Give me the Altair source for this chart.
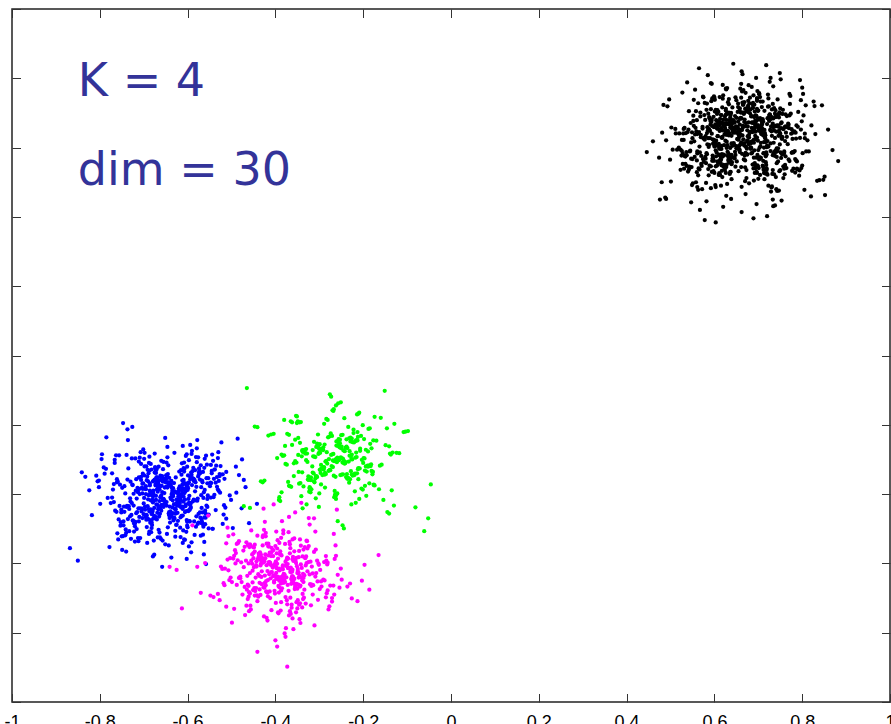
import altair as alt
import pandas as pd

# ---- tick values of both axes
ticks = [-1, -0.8, -0.6, -0.4, -0.2, 0, 0.2, 0.4, 0.6, 0.8, 1]

# ---- annotation texts (placed in data coordinates)
note_text = ["K = 4", "dim = 30"]
note_x = [-0.85, -0.85]
note_y = [0.749, 0.492]

# ---- cluster 1 (black, upper right): core points
black_x_core = [
.672,.631,.704,.598,.655,.689,.742,.613,.668,.547,.719,.640,.693,.581,.776,.659,.626,.711,.512,.684,
.647,.702,.590,.733,.662,.618,.801,.676,.639,.557,.698,.725,.604,.671,.644,.869,.687,.623,.752,.660,
.609,.681,.716,.652,.570,.738,.628,.695,.663,.532,.707,.645,.789,.617,.679,.600,.728,.654,.460,.690,
.636,.750,.667,.592,.713,.642,.685,.526,.699,.621,.760,.657,.603,.731,.674,.815,.649,.586,.722,.611,
.694,.566,.658,.741,.627,.683,.601,.709,.648,.778,.635,.670,.541,.717,.662,.593,.745,.629,.882,.688,
.655,.614,.726,.678,.573,.696,.640,.754,.666,.519,.703,.632,.687,.608,.739,.651,.793,.620,.676,.597,
.712,.643,.582,.697,.660,.735,.625,.561,.680,.707,.639,.771,.668,.599,.723,.654,.490,.689,.616,.748,
.633,.700,.657,.594,.764,.675,.610,.718,.646,.537,.692,.628,.808,.664,.607,.730,.685,.574,.650,.714,
.619,.691,.738,.641,.670,.553,.705,.661,.782,.624,.684,.596,.720,.653,.446,.699,.637,.757,.668,.588,
.706,.645,.677,.569,.729,.658,.612,.694,.830,.634,.673,.602,.747,.663,.528,.688,.626,.715,.650,.585,
.683,.617,.740,.666,.595,.702,.647,.767,.630,.558,.693,.676,.611,.724,.656,.505,.687,.638,.795,.671,
.641,.710,.589,.679,.733,.622,.665,.544,.698,.652,.759,.604,.686,.629,.742,.660,.851,.615,.675,.579,
.697,.635,.720,.660,.578,.685,.644,.773,.669,.606,.711,.523,.654,.727,.632,.689,.597,.746,.662,.481,
.625,.702,.671,.591,.753,.648,.681,.612,.719,.565,.693,.640,.786,.657,.603,.734,.676,.547,.664,.707,
.674,.613,.736,.652,.584,.698,.639,.762,.667,.530,.709,.627,.690,.600,.744,.658,.821,.621,.682,.576,
.650,.721,.607,.687,.662,.554,.704,.643,.780,.631,.679,.594,.728,.666,.499,.695,.618,.751,.656,.588,
.712,.637,.675,.567,.739,.660,.616,.697,.806,.646,.672,.598,.731,.655,.539,.684,.627,.716,.663,.582,
.690,.624,.747,.669,.600,.705,.651,.769,.634,.561,.694,.678,.614,.726,.659,.515,.688,.641,.797,.673,
.644,.715,.592,.682,.737,.619,.667,.549,.701,.654,.761,.608,.689,.633,.743,.663,.859,.622,.677,.580,
.699,.639,.723,.661,.575,.686,.647,.775,.670,.609,.713,.527,.657,.729,.636,.692,.599,.749,.665,.474,
.628,.706,.673,.590,.755,.650,.683,.615,.721,.563,.696,.643,.788,.658,.605,.736,.678,.550,.668,.710,
.676,.611,.734,.655,.586,.700,.638,.765,.670,.534,.708,.630,.691,.602,.746,.661,.826,.624,.684,.578,
.653,.719,.606,.688,.664,.552,.703,.645,.784,.633,.680,.596,.725,.668,.502,.697,.620,.753,.659,.587,
.714,.636,.677,.569,.741,.662,.618,.699,.812,.648,.674,.601,.733,.657,.542,.686,.629,.718,.665,.583,
.692,.626,.749,.671,.603,.707,.653,.771,.636,.559,.696,.680,.616,.728,.661,.511,.690,.643,.799,.675,
]
black_y_core = [
.602,.648,.571,.689,.623,.540,.664,.597,.731,.615,.580,.676,.634,.498,.653,.609,.712,.562,.641,.690,.588,.757,.627,.669,.414,
.631,.584,.703,.612,.657,.549,.679,.620,.466,.645,.593,.725,.638,.570,.684,.605,.744,.626,.660,.553,.698,.617,.801,.651,.576,
.665,.608,.537,.672,.629,.744,.590,.653,.618,.505,.687,.641,.566,.711,.600,.648,.775,.622,.681,.546,.659,.595,.384,.634,.706,
.589,.661,.627,.718,.556,.646,.603,.683,.480,.637,.612,.738,.668,.579,.625,.699,.543,.652,.616,.820,.674,.598,.640,.561,.729,
.642,.574,.695,.610,.655,.530,.678,.625,.766,.600,.649,.565,.714,.633,.591,.686,.519,.662,.618,.741,.584,.657,.445,.629,.701,
.614,.667,.583,.728,.639,.552,.693,.606,.659,.490,.675,.621,.751,.596,.644,.568,.707,.631,.680,.541,.650,.611,.838,.672,.578,
.656,.599,.722,.635,.560,.684,.617,.747,.643,.509,.670,.592,.628,.716,.563,.663,.604,.784,.647,.535,.691,.624,.402,.658,.587,
.620,.676,.546,.701,.608,.654,.572,.735,.630,.473,.666,.601,.692,.639,.557,.713,.615,.648,.762,.582,.671,.527,.636,.604,.809,
.646,.581,.688,.624,.742,.566,.652,.610,.697,.500,.661,.633,.579,.719,.642,.594,.673,.452,.628,.758,.605,.682,.548,.637,.726,
.607,.663,.589,.708,.625,.539,.679,.645,.772,.598,.651,.516,.694,.619,.573,.735,.640,.606,.686,.391,.657,.613,.749,.577,.668,
.636,.594,.717,.651,.562,.690,.611,.660,.487,.643,.620,.754,.585,.677,.632,.545,.699,.648,.601,.829,.667,.558,.626,.706,.592,
.659,.616,.568,.730,.641,.597,.683,.523,.655,.609,.763,.634,.575,.697,.622,.672,.461,.646,.603,.739,.587,.664,.550,.710,.628,
.598,.685,.633,.551,.702,.618,.746,.657,.586,.669,.497,.640,.612,.724,.565,.676,.628,.797,.604,.653,.536,.694,.621,.420,.661,
.650,.605,.740,.627,.569,.671,.613,.687,.532,.645,.599,.768,.636,.582,.709,.623,.658,.476,.681,.610,.733,.560,.666,.641,.589,
.625,.673,.557,.696,.639,.594,.715,.608,.652,.512,.679,.630,.786,.601,.662,.574,.700,.644,.541,.727,.619,.665,.396,.635,.691,
.611,.652,.578,.721,.633,.546,.667,.603,.744,.626,.585,.691,.640,.503,.675,.616,.759,.592,.649,.563,.704,.622,.815,.658,.571,
.668,.614,.535,.683,.630,.737,.596,.656,.619,.478,.690,.644,.560,.713,.606,.649,.780,.627,.674,.548,.661,.597,.431,.638,.698,
.593,.664,.631,.712,.553,.647,.607,.688,.492,.634,.615,.733,.670,.583,.623,.703,.540,.655,.618,.812,.677,.600,.643,.567,.725,
.645,.577,.692,.613,.658,.527,.681,.628,.770,.602,.651,.570,.718,.637,.588,.684,.515,.665,.621,.745,.581,.660,.450,.632,.705,
.617,.670,.586,.724,.642,.555,.695,.609,.662,.486,.678,.624,.755,.599,.647,.571,.709,.629,.683,.544,.654,.614,.842,.676,.580,
]
# ---- cluster 1: ring points (middle density zone)
black_x_ring = [
.632,.734,.598,.702,.551,.748,.615,.583,.779,.694,.624,.742,.575,.713,.538,.790,.606,.755,.637,.497,
.716,.590,.627,.759,.561,.699,.786,.612,.733,.547,.640,.727,.586,.770,.620,.704,.529,.751,.603,.834,
.611,.745,.578,.690,.800,.634,.560,.724,.595,.708,.543,.763,.629,.738,.572,.693,.783,.607,.721,.488,
.741,.601,.718,.556,.697,.617,.768,.580,.729,.639,.532,.754,.593,.711,.795,.625,.566,.746,.604,.845,
.587,.707,.638,.776,.549,.731,.614,.757,.571,.696,.525,.739,.622,.762,.599,.719,.806,.630,.558,.480,
.725,.576,.691,.794,.619,.752,.540,.700,.596,.736,.628,.565,.774,.610,.743,.685,.536,.766,.635,.852,
.605,.739,.564,.715,.633,.784,.591,.703,.552,.757,.618,.698,.797,.581,.728,.640,.523,.749,.613,.493,
.760,.595,.708,.545,.731,.626,.771,.585,.693,.620,.534,.747,.603,.720,.802,.637,.561,.735,.609,.839,
.579,.717,.631,.788,.556,.744,.600,.765,.574,.697,.528,.730,.616,.758,.592,.711,.809,.636,.563,.476,
.737,.568,.694,.781,.612,.750,.546,.706,.589,.740,.625,.570,.772,.608,.726,.688,.531,.762,.639,.828,
.613,.746,.560,.712,.629,.791,.597,.701,.548,.753,.621,.695,.800,.584,.723,.636,.520,.744,.607,.501,
.753,.599,.710,.542,.734,.623,.777,.588,.690,.618,.537,.741,.606,.717,.805,.634,.567,.729,.611,.820,
.582,.714,.627,.785,.553,.748,.602,.769,.577,.700,.530,.733,.619,.761,.594,.709,.798,.638,.560,.484,
.732,.573,.699,.778,.615,.756,.550,.705,.592,.738,.630,.568,.780,.604,.722,.692,.535,.759,.633,.848,
.608,.742,.563,.719,.626,.787,.594,.704,.555,.750,.616,.701,.803,.583,.730,.641,.526,.752,.610,.490,
]
black_y_ring = [
.583,.684,.532,.651,.497,.702,.566,.727,.644,.541,.690,.573,.745,.527,.788,
.660,.548,.697,.578,.739,.525,.648,.680,.589,.486,.706,.563,.665,.535,.442,
.571,.693,.538,.656,.751,.521,.641,.586,.709,.504,.674,.560,.729,.552,.773,
.667,.529,.686,.562,.717,.545,.643,.700,.576,.480,.678,.590,.655,.522,.456,
.590,.704,.550,.638,.743,.533,.669,.568,.688,.509,.657,.581,.734,.544,.795,
.646,.537,.695,.575,.722,.520,.663,.681,.585,.492,.710,.565,.653,.547,.437,
.577,.689,.543,.661,.748,.526,.640,.588,.705,.500,.677,.559,.724,.534,.781,
.670,.531,.683,.569,.714,.551,.645,.698,.580,.475,.672,.587,.659,.524,.463,
.586,.708,.540,.642,.740,.528,.666,.572,.692,.512,.650,.579,.737,.555,.801,
.654,.536,.699,.564,.719,.523,.662,.676,.591,.488,.707,.561,.649,.549,.429,
.574,.687,.546,.668,.755,.530,.639,.584,.703,.506,.680,.558,.731,.539,.767,
.663,.527,.691,.567,.712,.553,.647,.694,.582,.483,.675,.589,.658,.520,.450,
.588,.701,.542,.644,.746,.535,.671,.570,.685,.515,.652,.576,.726,.557,.790,
.650,.539,.696,.579,.720,.521,.664,.679,.583,.495,.703,.568,.657,.544,.447,
.580,.692,.548,.659,.742,.529,.641,.590,.708,.502,.673,.562,.733,.537,.777,
.669,.533,.688,.571,.716,.547,.646,.697,.575,.478,.679,.586,.661,.526,.459,
.584,.706,.544,.643,.738,.532,.667,.566,.694,.510,.654,.578,.741,.550,.784,
.655,.541,.700,.563,.723,.524,.660,.682,.587,.490,.709,.567,.647,.546,.433,
.576,.690,.539,.665,.753,.527,.642,.585,.701,.507,.676,.555,.728,.536,.770,
.664,.530,.685,.573,.713,.549,.649,.693,.581,.485,.671,.590,.656,.521,.452,
]

# ---- cluster 2 (blue, lower left): core points
blue_x_core = [
-.633,-.671,-.598,-.702,-.648,-.615,-.559,-.684,-.627,-.741,-.655,-.590,-.662,-.719,-.604,-.643,-.520,-.677,-.611,-.802,
-.652,-.589,-.694,-.621,-.666,-.733,-.605,-.647,-.548,-.680,-.630,-.762,-.613,-.658,-.577,-.699,-.638,-.850,-.624,-.686,
-.617,-.675,-.642,-.563,-.708,-.636,-.595,-.660,-.751,-.609,-.689,-.626,-.531,-.669,-.646,-.716,-.582,-.653,-.477,-.692,
-.664,-.601,-.726,-.639,-.574,-.681,-.620,-.778,-.650,-.593,-.697,-.632,-.545,-.672,-.612,-.737,-.657,-.586,-.640,-.824,
-.608,-.659,-.695,-.628,-.555,-.683,-.645,-.756,-.619,-.668,-.581,-.711,-.635,-.504,-.676,-.600,-.727,-.649,-.566,-.661,
-.644,-.691,-.612,-.734,-.657,-.570,-.678,-.625,-.789,-.603,-.663,-.539,-.701,-.637,-.596,-.673,-.618,-.460,-.654,-.713,
-.627,-.682,-.588,-.649,-.720,-.614,-.667,-.552,-.695,-.641,-.766,-.606,-.658,-.583,-.705,-.631,-.679,-.841,-.622,-.569,
-.669,-.604,-.740,-.646,-.578,-.687,-.629,-.526,-.661,-.616,-.772,-.651,-.598,-.693,-.634,-.723,-.562,-.655,-.610,-.497,
-.639,-.700,-.591,-.665,-.617,-.749,-.643,-.557,-.676,-.626,-.707,-.599,-.654,-.805,-.632,-.685,-.573,-.660,-.613,-.729,
-.650,-.586,-.688,-.623,-.742,-.662,-.601,-.541,-.673,-.637,-.697,-.609,-.782,-.645,-.580,-.714,-.628,-.667,-.442,-.655,
-.611,-.677,-.636,-.565,-.718,-.648,-.594,-.690,-.759,-.621,-.663,-.533,-.684,-.640,-.602,-.731,-.656,-.575,-.670,-.868,
-.661,-.597,-.704,-.630,-.571,-.679,-.619,-.747,-.652,-.587,-.693,-.635,-.512,-.671,-.607,-.722,-.644,-.560,-.659,-.795,
-.624,-.686,-.645,-.576,-.712,-.633,-.592,-.664,-.768,-.614,-.680,-.547,-.698,-.641,-.603,-.739,-.653,-.584,-.489,-.672,
-.647,-.606,-.725,-.660,-.579,-.694,-.618,-.754,-.638,-.567,-.675,-.629,-.536,-.687,-.615,-.744,-.657,-.596,-.668,-.818,
-.620,-.666,-.699,-.634,-.558,-.678,-.642,-.761,-.610,-.672,-.585,-.709,-.649,-.517,-.683,-.600,-.730,-.646,-.568,-.658,
-.642,-.696,-.609,-.736,-.654,-.572,-.682,-.623,-.786,-.605,-.667,-.543,-.703,-.631,-.599,-.676,-.616,-.468,-.651,-.717,
-.629,-.685,-.590,-.652,-.723,-.612,-.670,-.554,-.691,-.639,-.770,-.608,-.656,-.581,-.706,-.627,-.681,-.833,-.625,-.564,
-.666,-.602,-.738,-.643,-.577,-.689,-.631,-.529,-.663,-.618,-.775,-.648,-.595,-.690,-.636,-.720,-.561,-.657,-.611,-.501,
-.637,-.703,-.593,-.668,-.619,-.746,-.645,-.555,-.674,-.628,-.710,-.597,-.650,-.799,-.633,-.688,-.574,-.662,-.614,-.726,
]
blue_y_core = [
-.401,-.362,-.447,-.385,-.423,-.331,-.468,-.396,-.352,-.502,-.414,-.374,-.439,-.297,-.390,-.456,-.343,-.419,-.541,
-.380,-.428,-.355,-.474,-.406,-.321,-.443,-.392,-.515,-.367,-.417,-.281,-.451,-.399,-.348,-.486,-.411,-.376,-.592,
-.433,-.370,-.409,-.338,-.461,-.395,-.527,-.382,-.425,-.304,-.445,-.359,-.403,-.489,-.387,-.431,-.264,-.413,-.366,
-.397,-.441,-.349,-.420,-.480,-.373,-.410,-.326,-.458,-.391,-.553,-.361,-.427,-.384,-.472,-.340,-.405,-.437,-.213,
-.418,-.357,-.466,-.389,-.335,-.432,-.400,-.506,-.369,-.446,-.378,-.288,-.422,-.393,-.494,-.352,-.438,-.404,-.575,
-.388,-.426,-.346,-.453,-.408,-.317,-.471,-.383,-.435,-.362,-.520,-.398,-.415,-.341,-.449,-.377,-.402,-.271,-.463,
-.429,-.371,-.412,-.484,-.356,-.394,-.444,-.329,-.421,-.379,-.537,-.407,-.365,-.459,-.386,-.436,-.301,-.416,-.610,
-.392,-.450,-.368,-.424,-.337,-.477,-.403,-.358,-.430,-.512,-.381,-.419,-.292,-.442,-.396,-.350,-.467,-.410,-.238,
-.414,-.360,-.455,-.399,-.324,-.437,-.385,-.498,-.372,-.427,-.344,-.465,-.405,-.382,-.548,-.354,-.440,-.395,-.279,
-.383,-.431,-.363,-.476,-.402,-.333,-.448,-.389,-.529,-.366,-.416,-.310,-.454,-.398,-.347,-.491,-.409,-.375,-.583,
-.436,-.368,-.411,-.342,-.464,-.393,-.523,-.380,-.428,-.307,-.443,-.361,-.401,-.487,-.390,-.433,-.258,-.415,-.364,
-.395,-.439,-.351,-.418,-.482,-.370,-.412,-.328,-.457,-.387,-.556,-.359,-.425,-.381,-.470,-.339,-.407,-.434,-.195,
-.420,-.355,-.462,-.391,-.336,-.430,-.397,-.508,-.367,-.448,-.376,-.285,-.424,-.390,-.496,-.349,-.441,-.406,-.568,
-.386,-.423,-.344,-.451,-.410,-.320,-.469,-.381,-.437,-.360,-.518,-.396,-.417,-.345,-.452,-.374,-.404,-.268,-.460,
-.427,-.373,-.414,-.481,-.358,-.392,-.446,-.332,-.419,-.377,-.534,-.405,-.363,-.461,-.384,-.438,-.298,-.418,-.602,
-.390,-.452,-.366,-.422,-.339,-.479,-.400,-.356,-.432,-.510,-.379,-.421,-.294,-.440,-.394,-.353,-.466,-.408,-.244,
-.416,-.358,-.457,-.397,-.327,-.435,-.383,-.500,-.370,-.429,-.346,-.463,-.403,-.380,-.545,-.357,-.442,-.393,-.275,
-.381,-.433,-.361,-.473,-.404,-.330,-.450,-.387,-.531,-.364,-.418,-.313,-.456,-.396,-.350,-.488,-.411,-.372,-.587,
-.434,-.366,-.413,-.340,-.467,-.391,-.525,-.378,-.426,-.309,-.445,-.363,-.399,-.485,-.388,-.435,-.261,-.417,-.362,
-.398,-.437,-.353,-.421,-.479,-.368,-.414,-.325,-.455,-.385,-.551,-.356,-.428,-.383,-.474,-.337,-.409,-.436,-.206,
]
# ---- cluster 2: ring points
blue_x_ring = [
-.611,-.702,-.575,-.668,-.742,-.597,-.715,-.538,-.676,-.566,-.758,-.604,-.697,-.527,-.681,-.584,-.733,-.613,-.559,-.791,
-.683,-.569,-.720,-.602,-.749,-.546,-.673,-.589,-.708,-.531,-.664,-.761,-.595,-.694,-.557,-.739,-.616,-.686,-.520,-.483,
-.598,-.711,-.562,-.679,-.736,-.607,-.700,-.543,-.670,-.578,-.765,-.592,-.724,-.533,-.688,-.561,-.745,-.609,-.571,-.802,
-.677,-.581,-.717,-.594,-.753,-.540,-.666,-.556,-.704,-.525,-.685,-.768,-.600,-.698,-.563,-.730,-.614,-.672,-.514,-.476,
-.603,-.706,-.568,-.674,-.744,-.591,-.713,-.549,-.682,-.574,-.755,-.608,-.692,-.536,-.678,-.587,-.728,-.617,-.553,-.785,
-.689,-.565,-.722,-.599,-.747,-.542,-.669,-.583,-.710,-.529,-.661,-.763,-.593,-.699,-.560,-.737,-.610,-.684,-.518,-.490,
-.596,-.714,-.564,-.675,-.740,-.605,-.703,-.545,-.667,-.576,-.760,-.590,-.719,-.535,-.691,-.558,-.750,-.612,-.568,-.808,
-.680,-.579,-.712,-.597,-.757,-.539,-.663,-.552,-.706,-.523,-.687,-.772,-.602,-.695,-.565,-.727,-.615,-.670,-.512,-.472,
-.606,-.709,-.572,-.671,-.746,-.594,-.716,-.547,-.684,-.570,-.752,-.606,-.693,-.530,-.679,-.586,-.731,-.619,-.555,-.796,
-.687,-.567,-.725,-.601,-.751,-.544,-.668,-.580,-.711,-.527,-.660,-.766,-.591,-.701,-.562,-.735,-.611,-.682,-.516,-.486,
]
blue_y_ring = [
-.437,-.341,-.482,-.372,-.519,-.302,-.452,-.329,-.470,-.366,-.531,-.290,-.445,-.348,-.489,-.360,-.507,-.311,-.456,-.323,-.476,-.380,-.493,-.285,-.561,
-.368,-.466,-.334,-.441,-.296,-.511,-.357,-.479,-.320,-.433,-.287,-.524,-.375,-.486,-.345,-.449,-.306,-.538,-.363,-.472,-.327,-.458,-.500,-.352,-.244,
-.448,-.338,-.477,-.379,-.515,-.298,-.436,-.325,-.468,-.361,-.534,-.293,-.455,-.350,-.491,-.356,-.503,-.315,-.442,-.319,-.483,-.371,-.496,-.281,-.574,
-.364,-.463,-.331,-.439,-.300,-.509,-.359,-.474,-.322,-.451,-.284,-.527,-.377,-.481,-.343,-.434,-.309,-.541,-.367,-.470,-.324,-.460,-.497,-.354,-.236,
-.443,-.336,-.485,-.370,-.521,-.304,-.454,-.331,-.466,-.362,-.529,-.288,-.440,-.346,-.487,-.358,-.505,-.313,-.459,-.321,-.478,-.382,-.494,-.283,-.566,
-.371,-.469,-.333,-.444,-.294,-.513,-.354,-.480,-.318,-.435,-.289,-.522,-.373,-.484,-.347,-.447,-.308,-.536,-.366,-.473,-.329,-.457,-.499,-.350,-.251,
-.450,-.340,-.475,-.377,-.517,-.297,-.438,-.327,-.471,-.359,-.532,-.295,-.453,-.352,-.490,-.357,-.501,-.316,-.444,-.317,-.481,-.369,-.495,-.279,-.580,
-.362,-.464,-.335,-.437,-.299,-.508,-.361,-.476,-.321,-.453,-.286,-.525,-.379,-.479,-.342,-.432,-.310,-.539,-.369,-.467,-.326,-.462,-.498,-.356,-.240,
]

# ---- cluster 3 (green, centre): core points
green_x_core = [
-.255,-.301,-.219,-.348,-.274,-.236,-.182,-.312,-.265,-.396,-.243,-.290,-.207,-.329,-.260,-.151,-.283,-.228,-.362,-.046,
-.278,-.222,-.316,-.249,-.193,-.340,-.267,-.129,-.296,-.238,-.371,-.258,-.211,-.305,-.246,-.425,-.271,-.200,-.332,-.262,
-.240,-.287,-.214,-.355,-.263,-.170,-.309,-.251,-.383,-.226,-.294,-.104,-.275,-.233,-.322,-.257,-.190,-.345,-.268,-.458,
-.282,-.229,-.324,-.259,-.178,-.303,-.247,-.367,-.216,-.289,-.137,-.270,-.237,-.337,-.264,-.203,-.410,-.252,-.298,-.061,
-.248,-.296,-.221,-.343,-.269,-.185,-.315,-.242,-.389,-.231,-.281,-.158,-.261,-.204,-.327,-.273,-.118,-.306,-.254,-.441,
-.272,-.218,-.320,-.256,-.196,-.351,-.263,-.141,-.293,-.234,-.377,-.250,-.212,-.299,-.244,-.433,-.277,-.189,-.338,-.266,
-.236,-.285,-.209,-.358,-.258,-.174,-.311,-.247,-.380,-.224,-.291,-.098,-.279,-.227,-.318,-.253,-.186,-.349,-.270,-.472,
-.286,-.232,-.326,-.262,-.181,-.307,-.241,-.364,-.213,-.292,-.133,-.267,-.239,-.334,-.259,-.199,-.404,-.249,-.302,-.052,
-.251,-.299,-.224,-.346,-.266,-.188,-.313,-.245,-.392,-.228,-.284,-.162,-.257,-.201,-.330,-.276,-.124,-.308,-.250,-.447,
-.269,-.215,-.323,-.253,-.192,-.353,-.260,-.145,-.297,-.230,-.374,-.247,-.208,-.302,-.241,-.429,-.280,-.194,-.335,-.264,
-.238,-.288,-.211,-.352,-.261,-.176,-.314,-.244,-.386,-.220,-.295,-.108,-.276,-.225,-.321,-.255,-.183,-.342,-.273,-.081,
-.284,-.226,-.319,-.257,-.179,-.304,-.243,-.369,-.217,-.290,-.139,-.268,-.235,-.339,-.262,-.197,-.416,-.246,-.300,-.465,
]
green_y_core = [
-.302,-.268,-.341,-.287,-.225,-.356,-.314,-.249,-.391,-.296,-.181,-.329,-.275,-.430,-.308,-.102,
-.279,-.334,-.258,-.372,-.299,-.214,-.320,-.263,-.405,-.291,-.347,-.197,-.316,-.242,-.365,-.478,
-.325,-.254,-.298,-.361,-.232,-.310,-.283,-.414,-.266,-.339,-.170,-.305,-.350,-.246,-.293,-.135,
-.290,-.343,-.271,-.220,-.331,-.306,-.380,-.259,-.318,-.193,-.284,-.440,-.312,-.237,-.359,-.295,
-.336,-.262,-.309,-.377,-.244,-.323,-.286,-.158,-.352,-.273,-.401,-.301,-.228,-.345,-.281,-.507,
-.297,-.327,-.251,-.368,-.303,-.210,-.338,-.276,-.420,-.289,-.186,-.315,-.260,-.384,-.307,-.119,
-.282,-.349,-.265,-.207,-.319,-.295,-.395,-.241,-.332,-.176,-.300,-.456,-.270,-.354,-.313,-.230,
-.328,-.256,-.304,-.363,-.234,-.321,-.278,-.409,-.267,-.342,-.165,-.311,-.247,-.375,-.292,-.490,
-.288,-.346,-.273,-.218,-.333,-.299,-.386,-.253,-.317,-.190,-.285,-.435,-.306,-.239,-.358,-.144,
-.333,-.264,-.311,-.379,-.245,-.324,-.280,-.155,-.351,-.272,-.398,-.296,-.226,-.344,-.284,-.470,
-.294,-.330,-.250,-.370,-.305,-.212,-.340,-.274,-.417,-.290,-.183,-.318,-.261,-.387,-.302,-.112,
-.281,-.348,-.268,-.205,-.322,-.293,-.393,-.243,-.335,-.174,-.298,-.452,-.271,-.357,-.315,-.229,
-.326,-.259,-.307,-.366,-.236,-.320,-.277,-.406,-.263,-.344,-.168,-.309,-.248,-.373,-.291,-.499,
-.286,-.345,-.270,-.221,-.330,-.300,-.383,-.255,-.319,-.192,-.287,-.438,-.304,-.240,-.360,-.138,
-.335,-.261,-.312,-.376,-.247,-.322,-.283,-.160,-.353,-.274,-.403,-.297,-.231,-.343,-.279,-.094,
]
# ---- cluster 3: ring points
green_x_ring = [
-.231,-.305,-.198,-.336,-.181,-.293,-.369,-.219,-.328,-.154,-.289,-.214,-.344,-.186,-.380,-.227,-.309,-.141,-.322,-.205,
-.297,-.216,-.341,-.177,-.311,-.234,-.358,-.194,-.386,-.222,-.301,-.160,-.330,-.211,-.348,-.176,-.291,-.237,-.373,-.135,
-.226,-.308,-.201,-.339,-.184,-.296,-.365,-.217,-.325,-.149,-.287,-.212,-.347,-.189,-.391,-.229,-.312,-.146,-.319,-.207,
-.300,-.213,-.338,-.174,-.315,-.236,-.355,-.196,-.378,-.224,-.303,-.164,-.333,-.209,-.351,-.179,-.288,-.232,-.362,-.130,
]
green_y_ring = [
-.276,-.351,-.241,-.378,-.268,-.345,-.229,-.392,-.283,-.417,-.197,-.340,-.252,-.369,-.186,-.430,
-.355,-.262,-.384,-.232,-.339,-.280,-.406,-.245,-.366,-.206,-.348,-.272,-.395,-.224,-.437,-.180,
-.270,-.357,-.238,-.374,-.265,-.342,-.226,-.389,-.286,-.412,-.201,-.337,-.255,-.372,-.190,-.425,
-.349,-.259,-.381,-.235,-.336,-.277,-.409,-.248,-.363,-.210,-.352,-.269,-.398,-.221,-.441,-.177,
-.273,-.354,-.243,-.376,-.261,-.346,-.228,-.386,-.279,-.414,-.195,-.343,-.257,-.367,-.193,-.433,
]

# ---- cluster 4 (magenta, bottom): core points
magenta_x_core = [
-.384,-.421,-.352,-.447,-.398,-.336,-.470,-.375,-.409,-.298,-.391,-.436,-.362,-.509,-.380,-.343,-.414,-.262,-.402,-.578,
-.366,-.412,-.341,-.455,-.393,-.327,-.428,-.372,-.491,-.355,-.403,-.281,-.440,-.386,-.349,-.466,-.397,-.360,-.197,-.419,
-.395,-.350,-.431,-.377,-.320,-.445,-.389,-.527,-.364,-.415,-.307,-.400,-.458,-.369,-.426,-.338,-.483,-.382,-.254,-.407,
-.373,-.437,-.358,-.404,-.331,-.461,-.388,-.285,-.418,-.367,-.499,-.392,-.345,-.430,-.379,-.322,-.451,-.396,-.613,-.361,
-.411,-.347,-.385,-.443,-.363,-.312,-.424,-.399,-.475,-.357,-.408,-.268,-.434,-.376,-.339,-.459,-.390,-.518,-.371,-.213,
-.381,-.429,-.354,-.449,-.394,-.329,-.464,-.370,-.413,-.301,-.387,-.441,-.359,-.505,-.383,-.346,-.417,-.258,-.405,-.570,
-.368,-.410,-.344,-.453,-.391,-.324,-.432,-.374,-.488,-.353,-.401,-.277,-.438,-.388,-.351,-.469,-.396,-.362,-.186,-.422,
-.397,-.348,-.433,-.379,-.317,-.448,-.386,-.531,-.366,-.416,-.304,-.402,-.456,-.371,-.423,-.335,-.480,-.385,-.249,-.409,
-.375,-.435,-.356,-.406,-.333,-.463,-.389,-.289,-.420,-.365,-.496,-.393,-.342,-.427,-.378,-.325,-.450,-.398,-.625,-.363,
-.413,-.345,-.383,-.446,-.361,-.315,-.422,-.400,-.478,-.358,-.406,-.271,-.436,-.377,-.337,-.457,-.392,-.521,-.369,-.165,
-.386,-.426,-.350,-.444,-.399,-.334,-.467,-.373,-.411,-.295,-.390,-.439,-.364,-.512,-.381,-.340,-.418,-.265,-.404,-.589,
-.370,-.414,-.339,-.452,-.395,-.330,-.425,-.376,-.494,-.357,-.405,-.284,-.442,-.387,-.347,-.463,-.399,-.359,-.203,-.416,
-.392,-.352,-.429,-.374,-.322,-.447,-.391,-.524,-.367,-.412,-.309,-.398,-.460,-.372,-.424,-.341,-.486,-.384,-.251,-.405,
-.377,-.439,-.360,-.401,-.328,-.458,-.387,-.282,-.417,-.369,-.502,-.394,-.343,-.433,-.380,-.319,-.453,-.394,-.641,-.365,
-.409,-.349,-.387,-.441,-.365,-.314,-.427,-.396,-.472,-.355,-.410,-.266,-.431,-.378,-.336,-.461,-.388,-.515,-.373,-.226,
-.383,-.424,-.357,-.450,-.396,-.332,-.465,-.371,-.415,-.303,-.389,-.443,-.361,-.507,-.382,-.344,-.420,-.260,-.403,-.560,
]
magenta_y_core = [
-.612,-.651,-.584,-.693,-.627,-.560,-.668,-.603,-.735,-.619,-.541,-.675,-.637,-.497,-.645,-.772,
-.631,-.578,-.679,-.610,-.556,-.700,-.640,-.592,-.744,-.623,-.519,-.662,-.600,-.453,-.655,-.598,
-.587,-.646,-.616,-.722,-.571,-.638,-.604,-.683,-.533,-.628,-.660,-.812,-.595,-.641,-.565,-.706,
-.659,-.597,-.628,-.550,-.687,-.614,-.753,-.580,-.642,-.505,-.670,-.607,-.718,-.636,-.590,-.430,
-.606,-.665,-.575,-.698,-.622,-.545,-.654,-.615,-.761,-.589,-.633,-.488,-.677,-.601,-.730,-.618,
-.643,-.582,-.672,-.609,-.728,-.567,-.635,-.594,-.690,-.528,-.625,-.664,-.606,-.787,-.649,-.553,
-.620,-.657,-.586,-.709,-.630,-.548,-.667,-.611,-.741,-.599,-.636,-.510,-.681,-.604,-.658,-.855,
-.593,-.648,-.617,-.564,-.695,-.633,-.579,-.685,-.538,-.626,-.715,-.601,-.650,-.469,-.639,-.588,
-.662,-.599,-.634,-.724,-.572,-.641,-.608,-.749,-.557,-.624,-.676,-.522,-.614,-.661,-.591,-.802,
-.609,-.671,-.577,-.688,-.625,-.543,-.652,-.602,-.733,-.613,-.585,-.699,-.638,-.478,-.647,-.568,
-.640,-.583,-.674,-.612,-.553,-.703,-.643,-.596,-.757,-.621,-.516,-.665,-.603,-.442,-.653,-.596,
-.585,-.644,-.619,-.719,-.569,-.636,-.606,-.680,-.531,-.629,-.663,-.822,-.597,-.643,-.562,-.710,
-.656,-.595,-.630,-.547,-.684,-.616,-.750,-.576,-.640,-.503,-.673,-.605,-.714,-.634,-.592,-.898,
-.604,-.667,-.573,-.696,-.624,-.542,-.656,-.613,-.765,-.587,-.635,-.490,-.679,-.600,-.727,-.621,
-.645,-.580,-.670,-.607,-.731,-.565,-.637,-.592,-.692,-.526,-.627,-.661,-.608,-.790,-.650,-.551,
-.618,-.659,-.588,-.706,-.632,-.546,-.669,-.609,-.738,-.598,-.638,-.508,-.683,-.602,-.656,-.425,
-.591,-.650,-.615,-.562,-.697,-.631,-.581,-.687,-.536,-.628,-.712,-.603,-.648,-.466,-.641,-.586,
-.664,-.601,-.632,-.721,-.574,-.639,-.610,-.746,-.555,-.622,-.678,-.520,-.612,-.663,-.589,-.840,
-.611,-.669,-.579,-.690,-.623,-.544,-.654,-.600,-.736,-.615,-.583,-.701,-.636,-.480,-.645,-.570,
-.638,-.585,-.676,-.614,-.551,-.705,-.641,-.594,-.759,-.620,-.514,-.667,-.605,-.445,-.651,-.599,
]
# ---- cluster 4: ring points
magenta_x_ring = [
-.361,-.452,-.327,-.418,-.494,-.346,-.463,-.288,-.425,-.315,-.507,-.355,-.447,-.279,-.431,-.334,-.485,-.364,-.309,-.541,
-.433,-.321,-.470,-.352,-.499,-.296,-.423,-.338,-.458,-.275,-.414,-.512,-.344,-.444,-.308,-.480,-.366,-.436,-.267,-.230,
-.357,-.460,-.324,-.421,-.490,-.349,-.466,-.291,-.428,-.312,-.503,-.358,-.449,-.283,-.438,-.331,-.488,-.362,-.305,-.548,
-.429,-.318,-.473,-.350,-.496,-.299,-.420,-.336,-.455,-.271,-.416,-.516,-.342,-.441,-.311,-.477,-.367,-.434,-.263,-.236,
-.354,-.457,-.329,-.427,-.492,-.347,-.461,-.285,-.422,-.317,-.509,-.353,-.451,-.281,-.435,-.337,-.483,-.360,-.302,-.553,
]
magenta_y_ring = [
-.588,-.655,-.557,-.684,-.578,-.719,-.547,-.649,-.594,-.690,-.521,-.662,-.566,-.733,-.583,-.676,-.541,-.645,-.508,-.697,-.575,-.660,-.552,-.712,-.771,
-.652,-.574,-.688,-.545,-.664,-.596,-.725,-.531,-.671,-.560,-.643,-.699,-.581,-.515,-.658,-.591,-.738,-.550,-.681,-.570,-.706,-.539,-.647,-.598,-.470,
-.585,-.657,-.554,-.686,-.580,-.716,-.544,-.651,-.592,-.693,-.524,-.665,-.563,-.730,-.586,-.674,-.543,-.642,-.505,-.700,-.577,-.663,-.549,-.709,-.779,
-.654,-.571,-.691,-.548,-.667,-.593,-.722,-.534,-.669,-.562,-.641,-.696,-.579,-.512,-.661,-.589,-.741,-.553,-.678,-.568,-.703,-.536,-.650,-.600,-.462,
]

cluster_names = ["black", "blue", "green", "magenta"]
cluster_colors = ["#000000", "#0000ff", "#00ff00", "#ff00ff"]

# ---- build tables
series = [
    ("black", black_x_core, black_y_core), ("black", black_x_ring, black_y_ring),
    ("blue", blue_x_core, blue_y_core), ("blue", blue_x_ring, blue_y_ring),
    ("green", green_x_core, green_y_core), ("green", green_x_ring, green_y_ring),
    ("magenta", magenta_x_core, magenta_y_core), ("magenta", magenta_x_ring, magenta_y_ring),
]
parts = []
for name, xs, ys in series:
    n = min(len(xs), len(ys))
    parts.append(pd.DataFrame({"x": xs[:n], "y": ys[:n], "cluster": [name] * n}))
points = pd.concat(parts, ignore_index=True)
notes = pd.DataFrame({"label": note_text, "nx": note_x, "ny": note_y})

scale = alt.Scale(domain=[-1, 1], nice=False, zero=False)
TICK = 8.5
LABEL_EXPR = "replace(format(datum.value, '~g'), '\u2212', '-')"


def make_axis(orient, show_labels):
    return alt.Axis(
        orient=orient, values=ticks, title="", grid=False, domain=False,
        tickSize=TICK, offset=-TICK, tickColor="#333333", tickWidth=1,
        labels=show_labels, labelFont="Liberation Sans", labelFontSize=18,
        labelColor="#000000", labelPadding=11, labelFlush=False,
        labelOverlap=False, labelExpr=LABEL_EXPR,
    )


dots = alt.Chart(points).mark_circle(size=18, opacity=1).encode(
    x=alt.X("x:Q", scale=scale, axis=make_axis("bottom", True)),
    y=alt.Y("y:Q", scale=scale, axis=make_axis("left", False)),
    color=alt.Color("cluster:N", legend=None,
                    scale=alt.Scale(domain=cluster_names, range=cluster_colors)),
)

texts = alt.Chart(notes).mark_text(
    align="left", baseline="alphabetic", font="DejaVu Sans",
    fontSize=46, color="#333399",
).encode(
    x=alt.X("nx:Q", scale=scale, axis=make_axis("top", False)),
    y=alt.Y("ny:Q", scale=scale, axis=make_axis("right", False)),
    text="label:N",
)

chart = alt.layer(dots, texts).resolve_axis(
    x="independent", y="independent"
).properties(
    width=878, height=693,
    padding={"left": 12, "top": 9, "right": 1, "bottom": 22},
    autosize=alt.AutoSizeParams(type="none"),
    background="#ffffff",
).configure_view(stroke="#222222", strokeWidth=1.5)

chart.save("out.html", embed_options={"renderer": "svg", "actions": False})
